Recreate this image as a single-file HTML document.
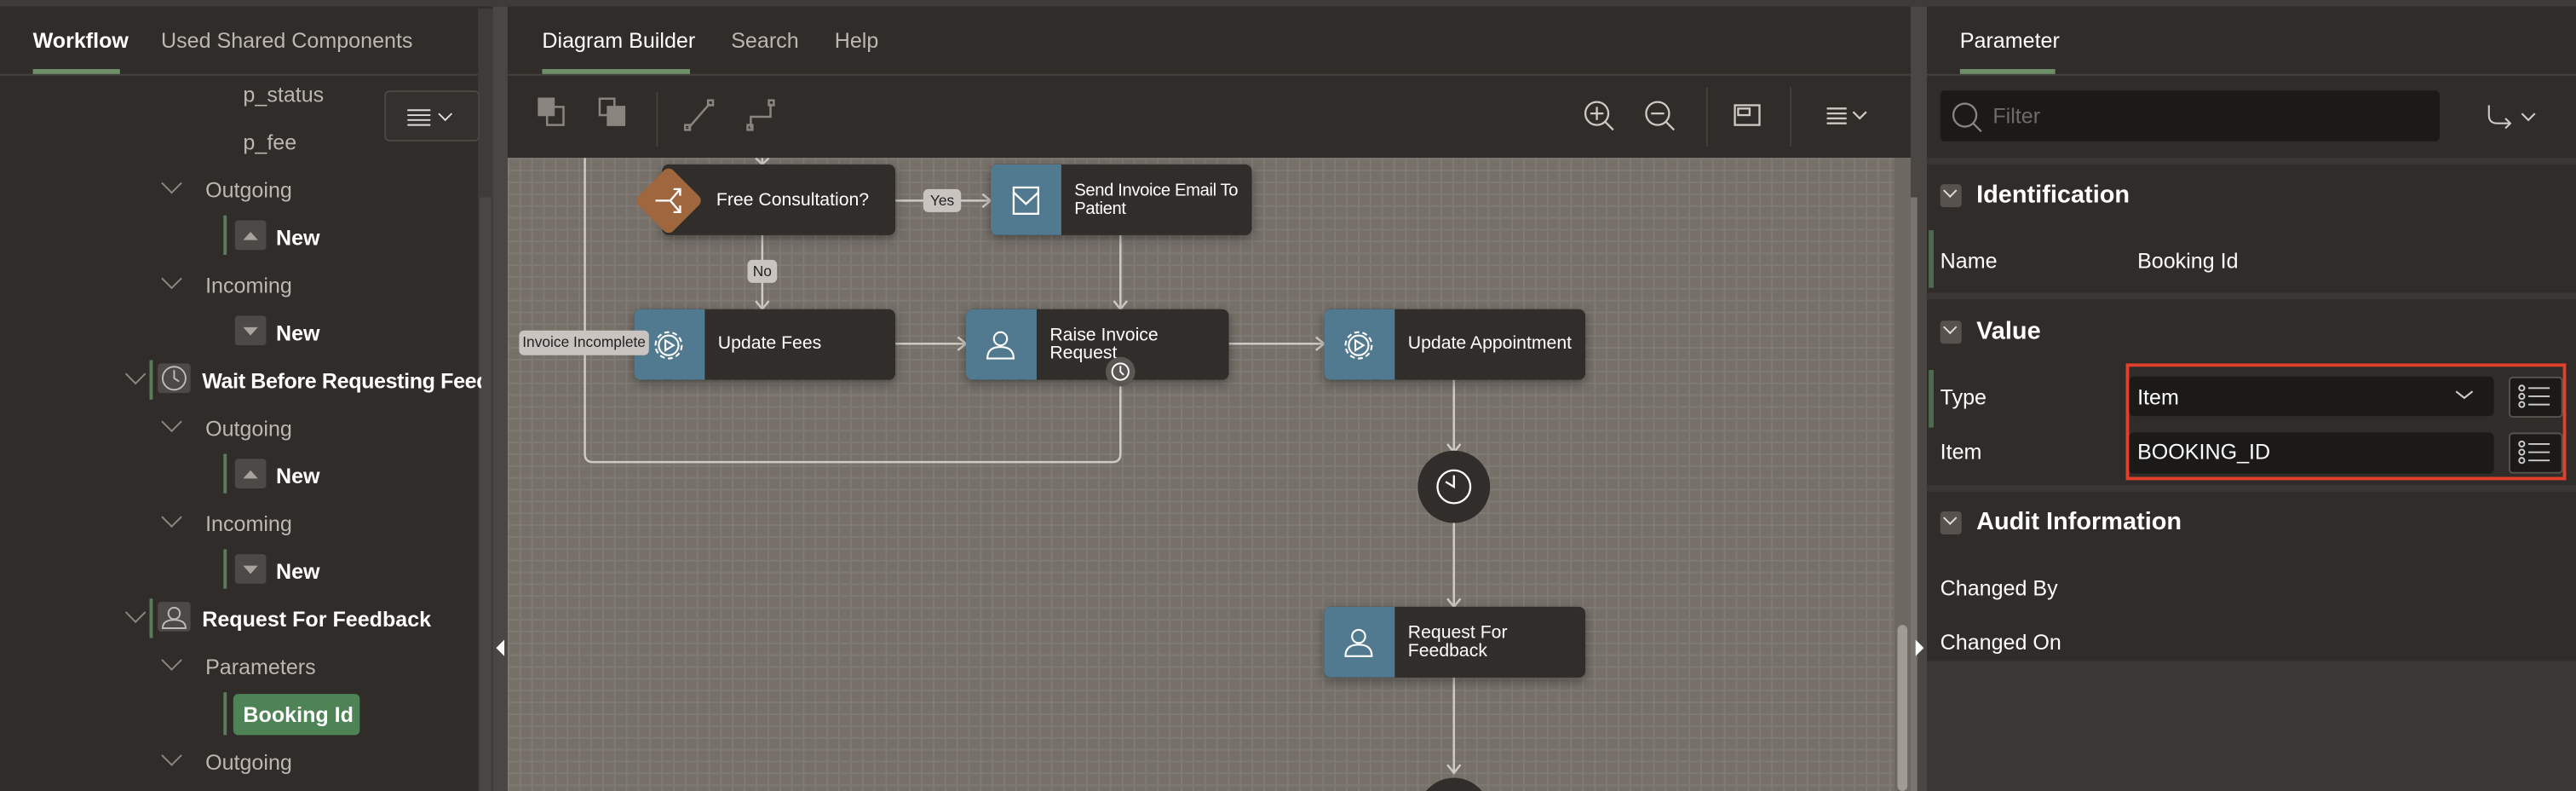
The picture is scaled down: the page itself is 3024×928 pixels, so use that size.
<!DOCTYPE html>
<html><head><meta charset="utf-8">
<style>
html,body{margin:0;padding:0;width:3024px;height:928px;overflow:hidden;background:#2f2c29;}
#w{position:absolute;left:0;top:0;width:1568px;height:481px;overflow:hidden;transform:scale(1.92857,1.9293);transform-origin:0 0;font-family:"Liberation Sans",sans-serif;color:#fff;}
.a{position:absolute;}
.t{position:absolute;white-space:nowrap;font-size:13px;}
.muted{color:#bdb7b1;}
.b{font-weight:bold;}
.node{position:absolute;height:43px;background:#312d2a;border-radius:4px;box-shadow:0 2px 6px rgba(0,0,0,.35);overflow:hidden;}
.node .ic{position:absolute;left:0;top:0;width:43px;height:43px;background:#517a91;}
.node .lb{position:absolute;left:51px;font-size:11px;line-height:11px;color:#fff;font-family:"Liberation Sans",sans-serif;white-space:nowrap;}
.chev{position:absolute;width:8px;height:8px;border-right:1.3px solid #8d8781;border-bottom:1.3px solid #8d8781;transform:rotate(45deg);}
.bar{position:absolute;width:2px;background:#5d7a5c;}
.ibox{position:absolute;width:19px;height:18px;background:#4d4946;border-radius:2px;}
.sec{position:absolute;left:1181px;width:13px;height:14px;background:#57524e;border-radius:2px;}
</style></head><body><div id="w">
<div class="a" style="left:0;top:0;width:1568px;height:4px;background:#3f3b38"></div>

<!-- LEFT PANEL -->
<div class="a" style="left:0;top:4px;width:300px;height:477px;background:#2f2c29"></div>
<div class="a" style="left:0;top:45px;width:291px;height:1px;background:#45413d"></div>
<div class="t b" style="left:20px;top:17px;font-size:13px;">Workflow</div>
<div class="a" style="left:20px;top:42px;width:53px;height:3px;background:#6f8f68"></div>
<div class="t muted" style="left:98px;top:17px;">Used Shared Components</div>
<div class="a" style="left:291px;top:5px;width:9px;height:476px;background:#3f3b38"></div>
<div class="a" style="left:292px;top:120px;width:7px;height:361px;background:#4b4744"></div>
<div class="a" style="left:234px;top:55px;width:58px;height:31px;border:1px solid #4c4844;border-radius:3px;background:#34302d;box-sizing:border-box"></div>
<svg class="a" style="left:245px;top:64px" width="40" height="14"><g stroke="#ddd" stroke-width="1"><line x1="3" y1="3" x2="17" y2="3"/><line x1="3" y1="6" x2="17" y2="6"/><line x1="3" y1="9" x2="17" y2="9"/><line x1="3" y1="12" x2="17" y2="12"/></g><polyline points="22,5 26,9 30,5" fill="none" stroke="#ddd"/></svg>

<div class="t muted" style="left:148px;top:50px;">p_status</div>
<div class="t muted" style="left:148px;top:79px;">p_fee</div>
<div class="chev" style="left:100px;top:107px"></div><div class="t muted" style="left:125px;top:108px;">Outgoing</div>
<div class="bar" style="left:136px;top:131px;height:24px"></div><div class="ibox" style="left:143px;top:134px"></div>
<svg class="a" style="left:143px;top:134px" width="19" height="18"><polygon points="5,12 14,12 9.5,7" fill="#a9a39d"/></svg>
<div class="t b" style="left:168px;top:137px;">New</div>
<div class="chev" style="left:100px;top:165px"></div><div class="t muted" style="left:125px;top:166px;">Incoming</div>
<div class="ibox" style="left:143px;top:192px"></div>
<svg class="a" style="left:143px;top:192px" width="19" height="18"><polygon points="5,7 14,7 9.5,12" fill="#a9a39d"/></svg>
<div class="t b" style="left:168px;top:195px;">New</div>

<div class="chev" style="left:78px;top:223px"></div><div class="bar" style="left:91px;top:219px;height:24px"></div>
<div class="ibox" style="left:96px;top:221px;width:20px"></div>
<svg class="a" style="left:96px;top:221px" width="20" height="18"><circle cx="10" cy="9" r="7" fill="none" stroke="#bbb" stroke-width="1"/><polyline points="10,4 10,9 13,11" fill="none" stroke="#bbb"/></svg>
<div class="t b" style="left:123px;top:224px;width:170px;overflow:hidden;letter-spacing:-0.2px">Wait Before Requesting Feedback</div>
<div class="chev" style="left:100px;top:252px"></div><div class="t muted" style="left:125px;top:253px;">Outgoing</div>
<div class="bar" style="left:136px;top:276px;height:24px"></div><div class="ibox" style="left:143px;top:279px"></div>
<svg class="a" style="left:143px;top:279px" width="19" height="18"><polygon points="5,12 14,12 9.5,7" fill="#a9a39d"/></svg>
<div class="t b" style="left:168px;top:282px;">New</div>
<div class="chev" style="left:100px;top:310px"></div><div class="t muted" style="left:125px;top:311px;">Incoming</div>
<div class="bar" style="left:136px;top:334px;height:24px"></div><div class="ibox" style="left:143px;top:337px"></div>
<svg class="a" style="left:143px;top:337px" width="19" height="18"><polygon points="5,7 14,7 9.5,12" fill="#a9a39d"/></svg>
<div class="t b" style="left:168px;top:340px;">New</div>

<div class="chev" style="left:78px;top:368px"></div><div class="bar" style="left:91px;top:364px;height:24px"></div>
<div class="ibox" style="left:96px;top:366px;width:20px"></div>
<svg class="a" style="left:96px;top:366px" width="20" height="18"><circle cx="10" cy="7" r="3.5" fill="none" stroke="#bbb"/><path d="M3,16 Q3,11 10,11 Q17,11 17,16 Z" fill="none" stroke="#bbb"/></svg>
<div class="t b" style="left:123px;top:369px;">Request For Feedback</div>
<div class="chev" style="left:100px;top:397px"></div><div class="t muted" style="left:125px;top:398px;">Parameters</div>
<div class="bar" style="left:136px;top:421px;height:26px"></div>
<div class="a" style="left:142px;top:422px;width:77px;height:25px;background:#4e8356;border-radius:3px"></div>
<div class="t b" style="left:148px;top:427px;">Booking Id</div>
<div class="chev" style="left:100px;top:455px"></div><div class="t muted" style="left:125px;top:456px;">Outgoing</div>

<div class="a" style="left:300px;top:4px;width:9px;height:477px;background:#4a4643"></div>
<svg class="a" style="left:301px;top:389px" width="7" height="10"><polygon points="6,0 6,10 1,5" fill="#fff"/></svg>

<!-- CENTER -->
<div class="a" style="left:309px;top:4px;width:854px;height:92px;background:#302c29"></div>
<div class="a" style="left:309px;top:45px;width:854px;height:1px;background:#45413d"></div>
<div class="t" style="left:330px;top:17px;">Diagram Builder</div>
<div class="a" style="left:330px;top:42px;width:90px;height:3px;background:#6f8f68"></div>
<div class="t muted" style="left:445px;top:17px;">Search</div>
<div class="t muted" style="left:508px;top:17px;">Help</div>
<svg class="a" style="left:309px;top:46px" width="854" height="50">
<g fill="none" stroke="#8a847f" stroke-width="1.3">
<rect x="19" y="14" width="9" height="10" fill="#8a847f"/><rect x="24" y="19" width="10" height="11"/>
<rect x="56" y="14" width="9" height="10"/><rect x="61" y="19" width="10" height="11" fill="#8a847f"/>
<line x1="110" y1="32" x2="123" y2="17"/><rect x="108" y="30" width="3" height="3"/><rect x="122" y="15" width="3" height="3"/>
<polyline points="148,32 148,25 160,25 160,17"/><rect x="146" y="30" width="3" height="3"/><rect x="159" y="15" width="3" height="3"/>
</g>
<line x1="91" y1="10" x2="91" y2="43" stroke="#45413d"/>
<g fill="none" stroke="#cfc9c3" stroke-width="1.2">
<circle cx="663" cy="23" r="7"/><line x1="668" y1="28" x2="673" y2="33"/><line x1="659" y1="23" x2="667" y2="23"/><line x1="663" y1="19" x2="663" y2="27"/>
<circle cx="700" cy="23" r="7"/><line x1="705" y1="28" x2="710" y2="33"/><line x1="696" y1="23" x2="704" y2="23"/>
<rect x="747" y="18" width="15" height="12"/><rect x="749" y="20" width="7" height="4"/>
<line x1="803" y1="20" x2="815" y2="20"/><line x1="803" y1="23" x2="815" y2="23"/><line x1="803" y1="26" x2="815" y2="26"/><line x1="803" y1="29" x2="815" y2="29"/>
<polyline points="819,22 823,26 827,22"/>
</g>
<line x1="730" y1="7" x2="730" y2="43" stroke="#45413d"/><line x1="781" y1="7" x2="781" y2="43" stroke="#45413d"/>
</svg>

<div class="a" style="left:309px;top:96px;width:854px;height:385px;background-color:#767069;background-image:linear-gradient(to right,#807a75 1px,transparent 1px),linear-gradient(to bottom,#807a75 1px,transparent 1px);background-size:7.2px 7.2px;"></div>
<div class="a" style="left:1153px;top:96px;width:10px;height:385px;background:#6e6863"></div>
<div class="a" style="left:1155px;top:380px;width:6px;height:101px;background:#a19b96;border-radius:3px"></div>

<svg class="a" style="left:309px;top:96px" width="854" height="385">
<g fill="none" stroke="#cfcac5" stroke-width="1.3">
<line x1="155" y1="0" x2="155" y2="4"/><polyline points="151,0 155,4 159,0"/>
<line x1="155" y1="47" x2="155" y2="92"/><polyline points="151,87 155,92 159,87"/>
<line x1="236" y1="26" x2="294" y2="26"/><polyline points="289,22 294,26 289,30"/>
<line x1="373" y1="47" x2="373" y2="92"/><polyline points="369,87 373,92 377,87"/>
<line x1="236" y1="113" x2="279" y2="113"/><polyline points="274,109 279,113 274,117"/>
<line x1="439" y1="113" x2="497" y2="113"/><polyline points="492,109 497,113 492,117"/>
<path d="M373,135 L373,180 Q373,185 368,185 L52,185 Q47,185 47,180 L47,0"/>
<line x1="576" y1="135" x2="576" y2="179"/><polyline points="572,174 576,179 580,174"/>
<line x1="576" y1="222" x2="576" y2="273"/><polyline points="572,268 576,273 580,268"/>
<line x1="576" y1="316" x2="576" y2="374"/><polyline points="572,369 576,374 580,369"/>
</g>
<circle cx="576" cy="200" r="22" fill="#312d2a"/>
<g fill="none" stroke="#fff" stroke-width="1.2"><circle cx="576" cy="200" r="10"/><polyline points="576,193 576,200 571,197"/></g>
<circle cx="576" cy="399" r="22" fill="#312d2a"/>
</svg>

<div class="node" style="left:403px;top:100px;width:142px;"><div class="lb" style="left:33px;top:17px">Free Consultation?</div></div>
<div class="a" style="left:392px;top:107px;width:30px;height:30px;background:#a0673f;border-radius:4px;transform:rotate(45deg)"></div>
<svg class="a" style="left:395px;top:111px" width="24" height="22"><g fill="none" stroke="#fff" stroke-width="1.2"><line x1="4" y1="11" x2="13" y2="11"/><polyline points="19,4 13,11 19,18"/><polyline points="15,4 19,4 19,8"/><polyline points="15,18 19,18 19,14"/></g></svg>
<div class="a" style="left:562px;top:115px;width:23px;height:14px;background:#c9c4bf;border-radius:3px;color:#222;font-size:9px;text-align:center;line-height:14px">Yes</div>
<div class="a" style="left:455px;top:158px;width:18px;height:14px;background:#c9c4bf;border-radius:3px;color:#222;font-size:9px;text-align:center;line-height:14px">No</div>

<div class="node" style="left:603px;top:100px;width:159px;"><div class="ic"></div><div class="lb" style="top:11px;font-size:10.5px;letter-spacing:-0.2px">Send Invoice Email To<br>Patient</div></div>
<svg class="a" style="left:614px;top:111px" width="22" height="22"><g fill="none" stroke="#fff" stroke-width="1.2"><rect x="3" y="3" width="15" height="16"/><polyline points="3,6 10.5,13 18,6"/></g></svg>

<div class="node" style="left:386px;top:188px;width:159px;"><div class="ic"></div><div class="lb" style="top:16px">Update Fees</div></div>
<div class="node" style="left:588px;top:188px;width:160px;"><div class="ic"></div><div class="lb" style="top:11px">Raise Invoice<br>Request</div></div>
<div class="node" style="left:806px;top:188px;width:159px;"><div class="ic"></div><div class="lb" style="top:16px">Update Appointment</div></div>
<div class="node" style="left:806px;top:369px;width:159px;"><div class="ic"></div><div class="lb" style="top:11px">Request For<br>Feedback</div></div>
<svg class="a" style="left:396px;top:199px" width="22" height="22"><g fill="none" stroke="#fff" stroke-width="1.1"><circle cx="11" cy="11" r="6"/><circle cx="11" cy="11" r="8" stroke-dasharray="3 2"/><polygon points="9,8 14,11 9,14"/></g></svg>
<svg class="a" style="left:816px;top:199px" width="22" height="22"><g fill="none" stroke="#fff" stroke-width="1.1"><circle cx="11" cy="11" r="6"/><circle cx="11" cy="11" r="8" stroke-dasharray="3 2"/><polygon points="9,8 14,11 9,14"/></g></svg>
<svg class="a" style="left:598px;top:199px" width="22" height="22"><g fill="none" stroke="#fff" stroke-width="1.1"><circle cx="11" cy="7" r="4"/><path d="M3,19 Q3,12 11,12 Q19,12 19,19 Z"/></g></svg>
<svg class="a" style="left:816px;top:380px" width="22" height="22"><g fill="none" stroke="#fff" stroke-width="1.1"><circle cx="11" cy="7" r="4"/><path d="M3,19 Q3,12 11,12 Q19,12 19,19 Z"/></g></svg>
<div class="a" style="left:316px;top:201px;width:79px;height:15px;background:#c9c4bf;border-radius:3px;color:#222;font-size:9px;text-align:center;line-height:15px">Invoice Incomplete</div>
<svg class="a" style="left:672px;top:216px" width="20" height="20"><circle cx="10" cy="10" r="9" fill="#5a5652"/><g fill="none" stroke="#fff" stroke-width="1"><circle cx="10" cy="10" r="5"/><polyline points="10,6.5 10,10 12,12"/></g></svg>

<div class="a" style="left:1163px;top:4px;width:10px;height:477px;background:#4a4643"></div>
<div class="a" style="left:1163px;top:120px;width:4px;height:361px;background:#7a746f"></div>
<svg class="a" style="left:1165px;top:389px" width="7" height="10"><polygon points="1,0 1,10 6,5" fill="#fff"/></svg>

<!-- RIGHT PANEL -->
<div class="a" style="left:1173px;top:4px;width:395px;height:477px;background:#2f2c29"></div>
<div class="a" style="left:1173px;top:45px;width:395px;height:1px;background:#45413d"></div>
<div class="t" style="left:1193px;top:17px;">Parameter</div>
<div class="a" style="left:1193px;top:42px;width:58px;height:3px;background:#6f8f68"></div>
<div class="a" style="left:1181px;top:55px;width:304px;height:31px;background:#1b1a19;border-radius:3px"></div>
<svg class="a" style="left:1186px;top:60px" width="22" height="22"><g fill="none" stroke="#8a847f" stroke-width="1.2"><circle cx="10" cy="10" r="7"/><line x1="15" y1="15" x2="20" y2="20"/></g></svg>
<div class="t" style="left:1213px;top:63px;color:#6f6a66">Filter</div>
<svg class="a" style="left:1510px;top:60px" width="40" height="22"><g fill="none" stroke="#ccc" stroke-width="1.1"><path d="M5,4 L5,10 Q5,15 10,15 L18,15"/><polyline points="15,12 18,15 15,18"/><polyline points="25,9 29,13 33,9"/></g></svg>
<div class="a" style="left:1173px;top:96px;width:395px;height:4px;background:#3b3734"></div>
<div class="sec" style="top:112px"></div><div class="chev" style="left:1184px;top:113px;width:5px;height:5px;border-color:#ddd"></div>
<div class="t b" style="left:1203px;top:110px;font-size:15px;">Identification</div>
<div class="a" style="left:1174px;top:140px;width:3px;height:35px;background:#4f6b4f"></div>
<div class="t" style="left:1181px;top:151px;">Name</div>
<div class="t" style="left:1301px;top:151px;">Booking Id</div>
<div class="a" style="left:1173px;top:178px;width:395px;height:4px;background:#3b3734"></div>
<div class="sec" style="top:195px"></div><div class="chev" style="left:1184px;top:196px;width:5px;height:5px;border-color:#ddd"></div>
<div class="t b" style="left:1203px;top:193px;font-size:15px;">Value</div>
<div class="a" style="left:1174px;top:225px;width:3px;height:35px;background:#4f6b4f"></div>
<div class="t" style="left:1181px;top:234px;">Type</div>
<div class="t" style="left:1181px;top:267px;">Item</div>
<div class="a" style="left:1294px;top:221px;width:268px;height:71px;border:2px solid #e2402a;box-sizing:border-box"></div>
<div class="a" style="left:1296px;top:229px;width:222px;height:24px;background:#1b1a19;border-radius:3px"></div>
<div class="t" style="left:1301px;top:234px;">Item</div>
<svg class="a" style="left:1493px;top:235px" width="14" height="10"><polyline points="2,3 7,7 12,3" fill="none" stroke="#ccc" stroke-width="1.1"/></svg>
<div class="a" style="left:1296px;top:263px;width:222px;height:25px;background:#1b1a19;border-radius:3px"></div>
<div class="t" style="left:1301px;top:267px;">BOOKING_ID</div>
<svg class="a" style="left:1527px;top:229px" width="34" height="60"><g fill="#1b1a19" stroke="#58534f"><rect x="0.5" y="0.5" width="32" height="24" rx="2"/><rect x="0.5" y="34.5" width="32" height="24" rx="2"/></g>
<g fill="none" stroke="#ccc" stroke-width="1"><circle cx="8" cy="7" r="1.6"/><circle cx="8" cy="12" r="1.6"/><circle cx="8" cy="17" r="1.6"/><line x1="12" y1="7" x2="25" y2="7"/><line x1="12" y1="12" x2="25" y2="12"/><line x1="12" y1="17" x2="25" y2="17"/>
<circle cx="8" cy="41" r="1.6"/><circle cx="8" cy="46" r="1.6"/><circle cx="8" cy="51" r="1.6"/><line x1="12" y1="41" x2="25" y2="41"/><line x1="12" y1="46" x2="25" y2="46"/><line x1="12" y1="51" x2="25" y2="51"/></g></svg>
<div class="a" style="left:1173px;top:295px;width:395px;height:4px;background:#3b3734"></div>
<div class="sec" style="top:311px"></div><div class="chev" style="left:1184px;top:312px;width:5px;height:5px;border-color:#ddd"></div>
<div class="t b" style="left:1203px;top:309px;font-size:15px;">Audit Information</div>
<div class="t" style="left:1181px;top:350px;">Changed By</div>
<div class="t" style="left:1181px;top:383px;">Changed On</div>
<div class="a" style="left:1173px;top:402px;width:395px;height:79px;background:#3c3835"></div>
</div></body></html>
